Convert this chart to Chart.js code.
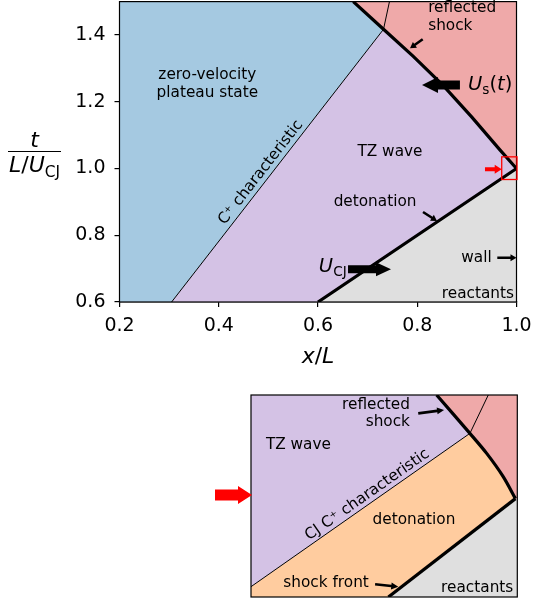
<!DOCTYPE html>
<html>
<head>
<meta charset="utf-8">
<script src="https://cdn.jsdelivr.net/npm/chart.js@4.4.0/dist/chart.umd.min.js"></script>
<style>
html, body { margin: 0; padding: 0; background: #fff; }
#wrap { position: relative; width: 533px; height: 603px; }
#main { position: absolute; left: 0; top: 0; }
#inset { position: absolute; left: 200px; top: 394px; }
</style>
</head>
<body>
<div id="wrap">
  <canvas id="main" width="533" height="603"></canvas>
  <canvas id="inset" width="320" height="206"></canvas>
</div>
<script>
// axes of the x-t diagram (x/L against t/(L/U_CJ))
var xMin = 0.2, xMax = 1.0, yMin = 0.6, yMax = 1.5;
var xTicks = [0.2, 0.4, 0.6, 0.8, 1.0];
var yTicks = [0.6, 0.8, 1.0, 1.2, 1.4];

// detonation front, t = x up to the wall
var detX = [0.6, 1.0];
var detT = [0.6, 1.0];
// reflected shock, from the wall back into the products
var reflX = [1.0, 0.967, 0.910, 0.852, 0.792, 0.732, 0.671];
var reflT = [1.0, 1.055, 1.154, 1.249, 1.336, 1.417, 1.5];
// C+ characteristic (bounds the plateau)
var charX = [0.305, 0.732, 0.744];
var charT = [0.6, 1.417, 1.5];

// inset: close-up of the reflection, box coordinates 0..1
var inShockX = [0.516, 0.993, 0.947, 0.885, 0.822, 0.697];
var inShockY = [0.0, 0.487, 0.596, 0.711, 0.810, 1.0];
var inCharX = [0.0, 0.822, 0.891];
var inCharY = [0.051, 0.810, 1.0];

var FONT = '"DejaVu Sans", sans-serif';
var BLUE = '#a5c9e1', PURPLE = '#d4c2e5', RED = '#efa9a9', GREY = '#dfdfdf', ORANGE = '#ffcc9f';

function pts(xs, ys) {
    return xs.map(function (x, i) { return {x: x, y: ys[i]}; });
}
function P(x, y) { return {x: x, y: y}; }

function region(data, color) {
    return {
        data: data.concat([data[0]]),
        borderWidth: 0,
        borderColor: 'rgba(0,0,0,0)',
        backgroundColor: color,
        fill: 'shape',
        pointRadius: 0,
        tension: 0
    };
}
function curve(data, w, tension) {
    return {
        data: data,
        borderColor: '#000',
        borderWidth: w,
        borderJoinStyle: 'miter',
        borderCapStyle: 'butt',
        fill: false,
        pointRadius: 0,
        tension: tension || 0
    };
}

function arrow(ctx, x1, y1, x2, y2, bw, hw, hl, color) {
    var dx = x2 - x1, dy = y2 - y1, L = Math.hypot(dx, dy);
    var ux = dx / L, uy = dy / L, nx = -uy, ny = ux;
    var bx = x2 - ux * hl, by = y2 - uy * hl;
    ctx.beginPath();
    ctx.moveTo(x1 + nx * bw / 2, y1 + ny * bw / 2);
    ctx.lineTo(bx + nx * bw / 2, by + ny * bw / 2);
    ctx.lineTo(bx + nx * hw / 2, by + ny * hw / 2);
    ctx.lineTo(x2, y2);
    ctx.lineTo(bx - nx * hw / 2, by - ny * hw / 2);
    ctx.lineTo(bx - nx * bw / 2, by - ny * bw / 2);
    ctx.lineTo(x1 - nx * bw / 2, y1 - ny * bw / 2);
    ctx.closePath();
    ctx.fillStyle = color;
    ctx.fill();
}

function text(ctx, s, x, y, size, align, rot) {
    ctx.save();
    ctx.translate(x, y);
    if (rot) ctx.rotate(rot);
    ctx.font = size + 'px ' + FONT;
    ctx.fillStyle = '#000';
    ctx.textAlign = align || 'center';
    ctx.textBaseline = 'middle';
    ctx.fillText(s, 0, 0);
    ctx.restore();
}

// mathtext-like: parts = [[str, 'i'|'r'|'sub'], ...], y is the baseline
function math(ctx, parts, x, y, size, align) {
    function fontOf(st) {
        return (st === 'i' ? 'italic ' : '') + (st === 'sub' ? size * 0.7 : size) + 'px ' + FONT;
    }
    var w = 0;
    parts.forEach(function (p) { ctx.font = fontOf(p[1]); w += ctx.measureText(p[0]).width; });
    var cx = align === 'right' ? x - w : (align === 'center' ? x - w / 2 : x);
    ctx.fillStyle = '#000';
    ctx.textAlign = 'left';
    ctx.textBaseline = 'alphabetic';
    parts.forEach(function (p) {
        ctx.font = fontOf(p[1]);
        ctx.fillText(p[0], cx, p[1] === 'sub' ? y + size * 0.22 : y);
        cx += ctx.measureText(p[0]).width;
    });
    return w;
}

function noPad(s) {
    s.paddingLeft = 0;
    s.paddingRight = 0;
    s.paddingTop = 0;
    s.paddingBottom = 0;
}

// ---------------- main diagram ----------------
var front = pts(detX, detT).concat(pts(reflX, reflT).slice(1));
var refl = pts(reflX, reflT);
var chr = pts(charX, charT);

var blueZone = [P(xMin, yMin), chr[0], chr[1], refl[6], P(xMin, yMax)];
var purpleZone = [chr[0], P(detX[0], detT[0])].concat(refl.slice(0, 6));
var redZone = refl.concat([P(xMax, yMax), P(xMax, reflT[0])]);
var greyZone = [P(detX[0], detT[0]), P(xMax, yMin), P(detX[1], detT[1])];

var mainDeco = {
    id: 'mainDeco',
    afterDatasetsDraw: function (chart) {
        var ctx = chart.ctx, a = chart.chartArea;
        var sx = chart.scales.x, sy = chart.scales.y;
        function X(v) { return sx.getPixelForValue(v); }
        function Y(v) { return sy.getPixelForValue(v); }
        ctx.save();

        // frame
        ctx.strokeStyle = '#000';
        ctx.lineWidth = 1.2;
        ctx.strokeRect(a.left, a.top, a.right - a.left, a.bottom - a.top);

        // labels inside the regions
        text(ctx, 'zero-velocity', X(0.377), Y(1.279), 15.3);
        text(ctx, 'plateau state', X(0.377), Y(1.225), 15.3);
        text(ctx, 'TZ wave', X(0.745), Y(1.050), 15.3);
        text(ctx, 'detonation', X(0.715), Y(0.900), 15.3);
        text(ctx, 'reflected', X(0.822), Y(1.480), 15.3, 'left');
        text(ctx, 'shock', X(0.822), Y(1.427), 15.3, 'left');
        text(ctx, 'wall', X(0.950), Y(0.733), 15.3, 'right');
        text(ctx, 'reactants', X(0.995), Y(0.624), 15.3, 'right');

        var ang = Math.atan2(Y(charT[1]) - Y(charT[0]), X(charX[1]) - X(charX[0]));
        text(ctx, 'C\u207A characteristic', X(0.4847), Y(0.988), 15.3, 'center', ang);

        // wave speed arrows
        arrow(ctx, X(0.886), Y(1.25), X(0.8096), Y(1.25), 9, 16, 16, '#000');
        math(ctx, [['U', 'i'], ['s', 'sub'], ['(', 'r'], ['t', 'i'], [')', 'r']], X(0.9023), Y(1.235), 19.5, 'left');
        arrow(ctx, X(0.6605), Y(0.698), X(0.7471), Y(0.698), 8, 14, 15, '#000');
        math(ctx, [['U', 'i'], ['CJ', 'sub']], X(0.6578), Y(0.691), 19.5, 'right');

        // pointer arrows
        arrow(ctx, X(0.8116), Y(0.8697), X(0.8398), Y(0.8427), 2.6, 7, 6, '#000');
        arrow(ctx, X(0.8110), Y(1.3871), X(0.7854), Y(1.3602), 2.6, 7, 6, '#000');
        arrow(ctx, X(0.9613), Y(0.7327), X(1.0), Y(0.7327), 2.6, 7, 6, '#000');

        // zoom marker
        arrow(ctx, X(0.9365), Y(0.9976), X(0.9702), Y(0.9976), 4, 9, 7, '#ff0000');
        ctx.strokeStyle = '#ff0000';
        ctx.lineWidth = 1.3;
        ctx.strokeRect(X(0.9702), Y(1.0349), X(1.001) - X(0.9702), Y(0.967) - Y(1.0349));

        // axis labels
        math(ctx, [['x', 'i'], ['/', 'r'], ['L', 'i']], (a.left + a.right) / 2, a.bottom + 61, 22, 'center');
        math(ctx, [['t', 'i']], 34.5, 147, 22, 'center');
        ctx.strokeStyle = '#000';
        ctx.lineWidth = 1.2;
        ctx.beginPath();
        ctx.moveTo(8, 151.5);
        ctx.lineTo(61, 151.5);
        ctx.stroke();
        math(ctx, [['L', 'i'], ['/', 'r'], ['U', 'i'], ['CJ', 'sub']], 34.5, 172, 22, 'center');
        ctx.restore();
    }
};

var axisFont = {family: FONT, size: 19};

new Chart(document.getElementById('main'), {
    type: 'line',
    data: {
        datasets: [
            curve(front, 3.2),
            curve(chr, 1),
            region(blueZone, BLUE),
            region(purpleZone, PURPLE),
            region(redZone, RED),
            region(greyZone, GREY)
        ]
    },
    options: {
        responsive: false,
        animation: false,
        events: [],
        layout: {padding: {left: 0, top: 1.6, right: 16.5, bottom: 261}},
        plugins: {legend: {display: false}, tooltip: {enabled: false}},
        scales: {
            x: {
                type: 'linear', min: xMin, max: xMax,
                afterFit: function (s) { s.height = 40; noPad(s); },
                afterBuildTicks: function (s) { s.ticks = xTicks.map(function (v) { return {value: v}; }); },
                ticks: {font: axisFont, color: '#000', padding: 8, maxRotation: 0, autoSkip: false,
                        callback: function (v) { return Number(v).toFixed(1); }},
                grid: {drawOnChartArea: false, tickLength: 5, color: '#000', lineWidth: 1.2},
                border: {color: '#000', width: 1.2}
            },
            y: {
                type: 'linear', min: yMin, max: yMax,
                afterFit: function (s) { s.width = 119.5; noPad(s); },
                afterBuildTicks: function (s) { s.ticks = yTicks.map(function (v) { return {value: v}; }); },
                ticks: {font: axisFont, color: '#000', padding: 9, autoSkip: false,
                        callback: function (v) { return Number(v).toFixed(1); }},
                grid: {drawOnChartArea: false, tickLength: 5, color: '#000', lineWidth: 1.2},
                border: {color: '#000', width: 1.2}
            }
        }
    },
    plugins: [mainDeco]
});

// ---------------- inset ----------------
var inShock = pts(inShockX, inShockY);
var inChar = pts(inCharX, inCharY);

var inPurple = [inChar[0], inChar[1], inShock[5], P(0, 1)];
var inOrange = [P(0, 0), inShock[0], inShock[1], inShock[2], inShock[3], inShock[4], inChar[0]];
var inRed = [inShock[5], P(1, 1), P(1, inShockY[1]), inShock[1], inShock[2], inShock[3], inShock[4]];
var inGrey = [inShock[0], P(1, 0), P(1, inShockY[1]), inShock[1]];

var insetDeco = {
    id: 'insetDeco',
    afterDatasetsDraw: function (chart) {
        var ctx = chart.ctx, a = chart.chartArea;
        var sx = chart.scales.x, sy = chart.scales.y;
        function X(v) { return sx.getPixelForValue(v); }
        function Y(v) { return sy.getPixelForValue(v); }
        ctx.save();
        ctx.strokeStyle = '#000';
        ctx.lineWidth = 1.2;
        ctx.strokeRect(a.left, a.top, a.right - a.left, a.bottom - a.top);

        text(ctx, 'reflected', X(0.597), Y(0.950), 15.3, 'right');
        text(ctx, 'shock', X(0.597), Y(0.868), 15.3, 'right');
        arrow(ctx, X(0.628), Y(0.909), X(0.725), Y(0.926), 2.6, 7, 7, '#000');
        text(ctx, 'TZ wave', X(0.178), Y(0.752), 15.3);
        var ang = Math.atan2(Y(inCharY[1]) - Y(inCharY[0]), X(inCharX[1]) - X(inCharX[0]));
        text(ctx, 'CJ C\u207A characteristic', X(0.437), Y(0.506), 15.3, 'center', ang);
        text(ctx, 'detonation', X(0.612), Y(0.381), 15.3);
        text(ctx, 'shock front', X(0.282), Y(0.068), 15.3);
        arrow(ctx, X(0.466), Y(0.063), X(0.553), Y(0.051), 2.6, 7, 7, '#000');
        text(ctx, 'reactants', X(0.985), Y(0.046), 15.3, 'right');

        // marker pointing at the inset
        arrow(ctx, a.left - 36, Y(0.505), a.left + 1, Y(0.505), 11, 18, 14, '#ff0000');
        ctx.restore();
    }
};

new Chart(document.getElementById('inset'), {
    type: 'line',
    data: {
        datasets: [
            curve(inShock.slice(0, 2), 3.2),
            curve(inShock.slice(1), 3.2, 0.3),
            curve(inChar, 1),
            region(inPurple, PURPLE),
            region(inOrange, ORANGE),
            region(inRed, RED),
            region(inGrey, GREY)
        ]
    },
    options: {
        responsive: false,
        animation: false,
        events: [],
        layout: {padding: {left: 51, top: 1, right: 2.7, bottom: 3}},
        plugins: {legend: {display: false}, tooltip: {enabled: false}},
        scales: {
            x: {type: 'linear', display: false, min: 0, max: 1},
            y: {type: 'linear', display: false, min: 0, max: 1}
        }
    },
    plugins: [insetDeco]
});
</script>
</body>
</html>
